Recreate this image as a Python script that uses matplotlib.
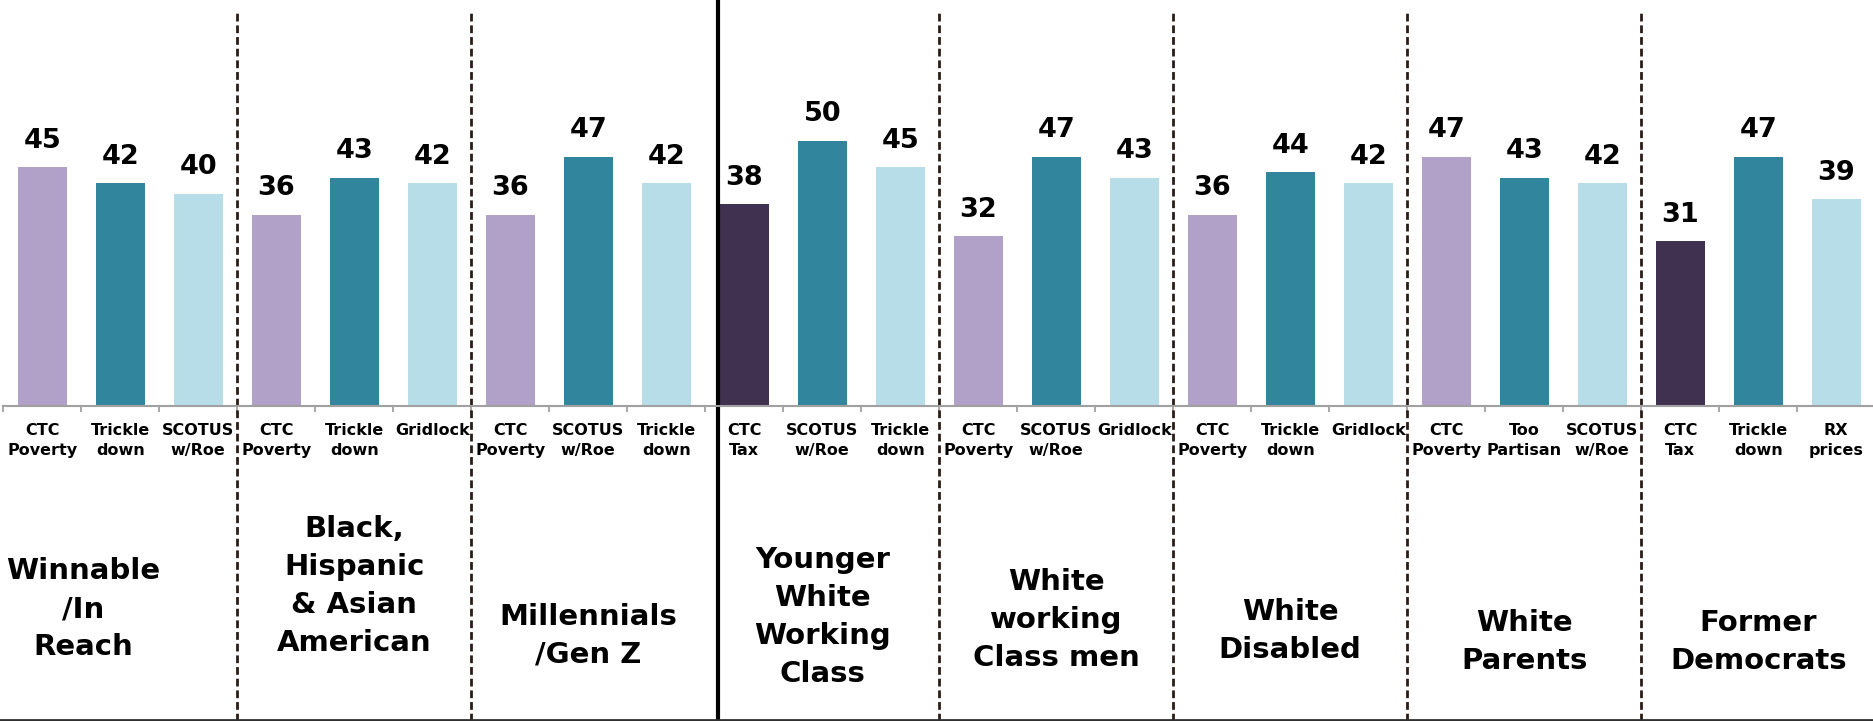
import matplotlib.pyplot as plt
import matplotlib.transforms as mtransforms
from matplotlib.lines import Line2D

plt.rcParams['font.family'] = ['DejaVu Sans']

# data
groups = ["Winnable\n/In\nReach", "Black,\nHispanic\n& Asian\nAmerican", "Millennials\n/Gen Z",
          "Younger\nWhite\nWorking\nClass", "White\nworking\nClass men", "White\nDisabled",
          "White\nParents", "Former\nDemocrats"]
labels = ["CTC\nPoverty", "Trickle\ndown", "SCOTUS\nw/Roe",
          "CTC\nPoverty", "Trickle\ndown", "Gridlock",
          "CTC\nPoverty", "SCOTUS\nw/Roe", "Trickle\ndown",
          "CTC\nTax", "SCOTUS\nw/Roe", "Trickle\ndown",
          "CTC\nPoverty", "SCOTUS\nw/Roe", "Gridlock",
          "CTC\nPoverty", "Trickle\ndown", "Gridlock",
          "CTC\nPoverty", "Too\nPartisan", "SCOTUS\nw/Roe",
          "CTC\nTax", "Trickle\ndown", "RX\nprices"]
values = [45, 42, 40,
          36, 43, 42,
          36, 47, 42,
          38, 50, 45,
          32, 47, 43,
          36, 44, 42,
          47, 43, 42,
          31, 47, 39]

PURPLE, TEAL, LIGHT, DARK = "#B1A0C7", "#31859C", "#B7DEE8", "#403151"
colors = []
for lab in labels:
    pos = len(colors) % 3
    if pos == 0:
        colors.append(DARK if "Tax" in lab else PURPLE)
    elif pos == 1:
        colors.append(TEAL)
    else:
        colors.append(LIGHT)

W, H = 1874, 721
fig = plt.figure(figsize=(W / 100, H / 100), dpi=100)
ax = fig.add_axes([3.3 / W, 315 / H, 1872 / W, 406 / H])

x = list(range(len(values)))
ax.bar(x, values, width=0.63, color=colors)
for xi, v in zip(x, values):
    ax.annotate(str(v), (xi, v), xytext=(0, 14), textcoords="offset points",
                ha="center", va="baseline", fontsize=19.5, fontweight="bold")

ax.set_xlim(-0.5, len(values) - 0.5)
ax.set_ylim(0, 76.5)
for s in ["top", "left", "right"]:
    ax.spines[s].set_visible(False)
ax.spines["bottom"].set_color("#A0A0A0")
ax.spines["bottom"].set_linewidth(1.5)
ax.set_yticks([])
ax.set_xticks([i - 0.5 for i in range(len(values) + 1)])
ax.set_xticklabels([])
ax.tick_params(axis="x", which="major", length=4, width=1.3, color="#A0A0A0")
ax.set_xticks(x, minor=True)
ax.set_xticklabels(labels, minor=True, fontsize=11.5, fontweight="bold", linespacing=1.45)
ax.tick_params(axis="x", which="minor", length=0, pad=12)

# group separators and group names
trans = mtransforms.blended_transform_factory(ax.transData, fig.transFigure)
for b in [2.5, 5.5, 11.5, 14.5, 17.5, 20.5]:
    ax.plot([b, b], [0, 1 - 12 / H], transform=trans, color="#2B1D16", lw=2,
            ls=(0, (2.8, 1.4)), clip_on=False)
ax.plot([8.66, 8.66], [0, 1], transform=trans, color="black", lw=3, clip_on=False)
fig.add_artist(Line2D([0, 1], [1.5 / H, 1.5 / H], color="#303030", lw=2))

group_x = [0.52, 4, 7, 10, 13, 16, 19, 22]
group_y = [609, 586, 636, 617, 620, 631, 642, 642]
for gx, gy, name in zip(group_x, group_y, groups):
    ax.text(gx, 1 - gy / H, name, transform=trans, ha="center", va="center",
            fontsize=21, fontweight="bold", linespacing=1.45)

fig.savefig("out.png", dpi=100)
